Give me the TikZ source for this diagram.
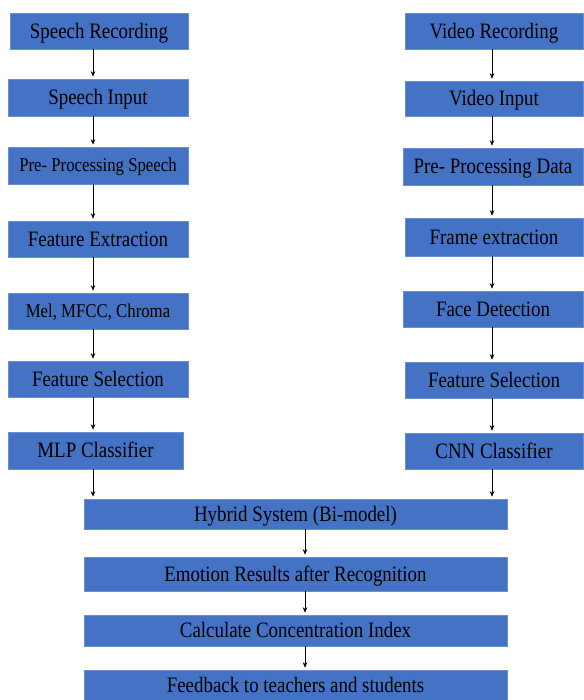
\documentclass[tikz,border=0pt]{standalone}
\usepackage{fontspec}
\newfontfamily\boxfont{Liberation Serif}[FakeStretch=0.86]
\usetikzlibrary{arrows.meta}
\definecolor{boxfill}{HTML}{4472C4}
\definecolor{boxline}{HTML}{6A8FD3}
\begin{document}
\begin{tikzpicture}[x=1pt, y=-1pt,
  stagebox/.style={draw=boxline, fill=boxfill, line width=0.6pt, inner sep=0pt,
    text=black, text height=14.5pt, text depth=0pt,
    font=\boxfont\fontsize{22}{24}\selectfont},
  smalltext/.style={text height=13pt, font=\boxfont\fontsize{19.5}{22}\selectfont},
  flow/.style={-{Stealth[length=5.5pt,width=4.5pt]}, line width=0.6pt, shorten >=2pt}]
  \useasboundingbox (0,0) rectangle (583,700);

  % Speech branch
  \node[stagebox, minimum width=178pt, minimum height=36pt] (sr) at (99,31) {Speech Recording};
  \node[stagebox, minimum width=180pt, minimum height=37pt] (si) at (98,97.5) {Speech Input};
  \node[stagebox, smalltext, minimum width=180pt, minimum height=37pt] (pps) at (98,165.5) {Pre- Processing Speech};
  \node[stagebox, minimum width=180pt, minimum height=36pt] (fe) at (98,239) {Feature Extraction};
  \node[stagebox, smalltext, minimum width=180pt, minimum height=36pt] (mel) at (98,311) {Mel, MFCC, Chroma};
  \node[stagebox, minimum width=180pt, minimum height=36pt] (fsl) at (98,379) {Feature Selection};
  \node[stagebox, minimum width=175pt, minimum height=37pt] (mlp) at (95.5,450.5) {MLP Classifier};

  % Video branch
  \node[stagebox, minimum width=178pt, minimum height=36pt] (vr) at (494,31) {Video Recording};
  \node[stagebox, minimum width=178pt, minimum height=35pt] (vi) at (494,98.5) {Video Input};
  \node[stagebox, minimum width=180pt, minimum height=37pt] (ppd) at (493,166.5) {Pre- Processing Data};
  \node[stagebox, minimum width=178pt, minimum height=38pt] (fr) at (494,237) {Frame extraction};
  \node[stagebox, minimum width=180pt, minimum height=36pt] (fd) at (493,309) {Face Detection};
  \node[stagebox, minimum width=178pt, minimum height=36pt] (fsr) at (494,380) {Feature Selection};
  \node[stagebox, minimum width=178pt, minimum height=36pt] (cnn) at (494,451) {CNN Classifier};

  % Fusion and output
  \node[stagebox, minimum width=423pt, minimum height=30pt] (hy) at (295.5,514) {Hybrid System (Bi-model)};
  \node[stagebox, minimum width=423pt, minimum height=34pt] (em) at (295.5,574) {Emotion Results after Recognition};
  \node[stagebox, minimum width=423pt, minimum height=31pt] (ci) at (295.5,630.5) {Calculate Concentration Index};
  \node[stagebox, minimum width=423pt, minimum height=30pt] (fb) at (295.5,685) {Feedback to teachers and students};

  % Arrow columns
  \coordinate (lx) at (93,0);
  \coordinate (rx) at (492,0);
  \coordinate (mx) at (305,0);

  \foreach \a/\b in {sr/si, si/pps, pps/fe, fe/mel, mel/fsl, fsl/mlp, mlp/hy}
    \draw[flow] (\a.south -| lx) -- (\b.north -| lx);
  \foreach \a/\b in {vr/vi, vi/ppd, ppd/fr, fr/fd, fd/fsr, fsr/cnn, cnn/hy}
    \draw[flow] (\a.south -| rx) -- (\b.north -| rx);
  \foreach \a/\b in {hy/em, em/ci, ci/fb}
    \draw[flow] (\a.south -| mx) -- (\b.north -| mx);
\end{tikzpicture}
\end{document}
